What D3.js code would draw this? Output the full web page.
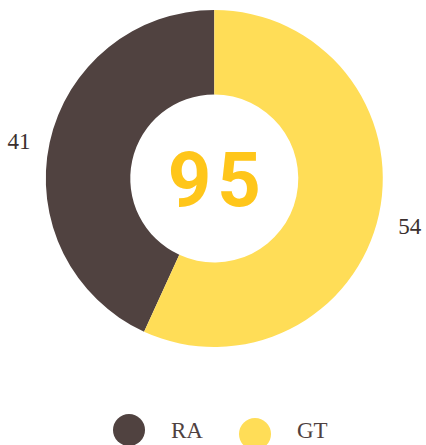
<!DOCTYPE html>
<html>
<head>
<meta charset="utf-8">
<script src="https://cdn.jsdelivr.net/npm/d3@7"></script>
<style>
  body { margin: 0; background: #fff; }
  svg { display: block; }
</style>
</head>
<body>
<script>
const categories = ['RA', 'GT'];
const values = [41, 54];
const colors = ['#504240', '#ffdd57'];
const total = 95;

let width = 426;
let height = 445;
let cx = 214.3, cy = 178.5;

let svg = d3.select('body').append('svg').attr('width', width).attr('height', height);

let data = categories.map((c, i) => ({ name: c, value: values[i], color: colors[i] }));

let pie = d3.pie().value(d => d.value).sort((a, b) => b.value - a.value);
let arc = d3.arc().innerRadius(84).outerRadius(168.5);
let labelArc = d3.arc().innerRadius(200).outerRadius(200);

let g = svg.append('g').attr('transform', `translate(${cx},${cy})`);

g.selectAll('path')
  .data(pie(data))
  .enter()
    .append('path')
    .attr('d', arc)
    .attr('fill', d => d.data.color);

// outside value labels
g.selectAll('text.val')
  .data(pie(data))
  .enter()
    .append('text')
    .attr('class', 'val')
    .attr('x', d => labelArc.centroid(d)[0])
    .attr('y', d => labelArc.centroid(d)[1] + 13)
    .attr('text-anchor', 'middle')
    .style('font-family', 'Liberation Serif')
    .style('font-size', '23px')
    .attr('fill', '#3a2f2e')
    .text(d => d.data.value);

// center total
g.append('text')
  .attr('text-anchor', 'middle')
  .attr('y', 27.5)
  .attr('x', 3)
  .style('font-family', 'Roboto')
  .style('font-weight', 'bold')
  .style('font-size', '76px')
  .style('letter-spacing', '6px')
  .attr('fill', '#ffc61a')
  .text(total);

// legend
let legendX = d3.scalePoint().domain(categories).range([129, 255]);
let legend = svg.append('g');
legend.selectAll('circle')
  .data(data)
  .enter()
    .append('circle')
    .attr('cx', d => legendX(d.name))
    .attr('cy', (d, i) => i === 0 ? 430 : 434)
    .attr('r', 16)
    .attr('fill', d => d.color);

legend.selectAll('text')
  .data(data)
  .enter()
    .append('text')
    .attr('x', d => legendX(d.name) + 42)
    .attr('y', 437.5)
    .style('font-family', 'Liberation Serif')
    .style('font-size', '23px')
    .attr('fill', '#4f4140')
    .text(d => d.name);
</script>
</body>
</html>
